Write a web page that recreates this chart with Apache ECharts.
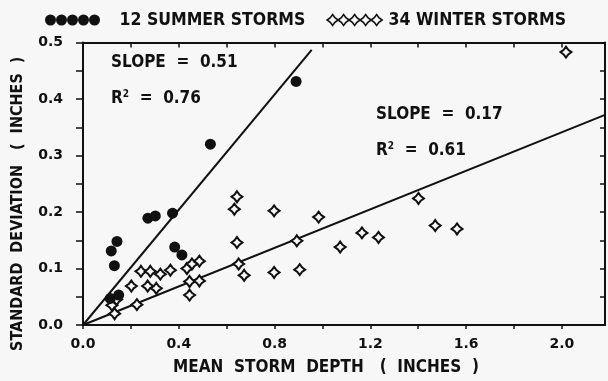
<!DOCTYPE html>
<html><head><meta charset="utf-8">
<script src="https://cdn.jsdelivr.net/npm/echarts@6/dist/echarts.min.js"></script>
<style>html,body{margin:0;padding:0;background:#f7f7f7}#c{width:608px;height:381px}</style>
</head><body><div id="c"></div>
<script>
// ---- data ----
const summerX = [0.114, 0.149, 0.131, 0.118, 0.142, 0.271, 0.302, 0.374, 0.383, 0.413, 0.532, 0.890];
const summerY = [0.047, 0.053, 0.105, 0.131, 0.148, 0.189, 0.193, 0.198, 0.138, 0.124, 0.320, 0.431];

const winterX = [0.643, 0.632, 0.643, 0.650, 0.673, 0.798, 0.798, 0.486, 0.434, 0.445, 0.486, 0.445,
                 0.242, 0.281, 0.323, 0.365, 0.202, 0.270, 0.306, 0.225, 0.121, 0.132, 0.893, 0.905,
                 0.984, 1.074, 1.165, 1.234, 1.401, 1.471, 1.562, 2.017, 0.455, 0.140];
const winterY = [0.227, 0.205, 0.146, 0.108, 0.088, 0.202, 0.093, 0.113, 0.100, 0.077, 0.078, 0.053,
                 0.095, 0.095, 0.090, 0.097, 0.069, 0.069, 0.065, 0.036, 0.035, 0.020, 0.149, 0.098,
                 0.191, 0.138, 0.163, 0.155, 0.224, 0.176, 0.170, 0.483, 0.108, 0.045];

const summerLineX = [0, 0.955];
const summerLineY = [0, 0.487];
const winterLineX = [0, 2.18];
const winterLineY = [0, 0.372];

const xTickLabels = ['0.0', '0.4', '0.8', '1.2', '1.6', '2.0'];
const yTickLabels = ['0.0', '0.1', '0.2', '0.3', '0.4', '0.5'];

const seriesNames = ['12 SUMMER STORMS', '34 WINTER STORMS'];
const annotations = [
  {text: 'SLOPE  =  0.51', left: 111, top: 54},
  {text: 'R{s|2}  =  0.76', left: 111, top: 89},
  {text: 'SLOPE  =  0.17', left: 376, top: 106},
  {text: 'R{s|2}  =  0.61', left: 376, top: 141}
];
// --------------------------------------

const zip = (xs, ys) => xs.map((x, i) => [x, ys[i]]);
const FONT = '"DejaVu Sans Condensed", "DejaVu Sans", sans-serif';
const INK = '#111';
const BG = '#f7f7f7';
const starPath = 'path://M5,0 L7.1,2.9 L10,5 L7.1,7.1 L5,10 L2.9,7.1 L0,5 L2.9,2.9 Z';

function chainCircles(n) {
  let d = '';
  for (let i = 0; i < n; i++) {
    const cx = 5 + i * 10;
    d += `M${cx - 5},5 a5,5 0 1,0 10,0 a5,5 0 1,0 -10,0 Z `;
  }
  return 'path://' + d;
}
function chainStars(n) {
  let d = '';
  for (let i = 0; i < n; i++) {
    const o = i * 10;
    d += `M${o + 5},0 L${o + 7.1},2.9 L${o + 10},5 L${o + 7.1},7.1 L${o + 5},10 L${o + 2.9},7.1 L${o},5 L${o + 2.9},2.9 Z `;
  }
  return 'path://' + d;
}

const fmtX = v => { const s = v.toFixed(1); return xTickLabels.includes(s) && Math.round(v * 10) % 4 === 0 ? s : ''; };
const fmtY = v => { const s = v.toFixed(1); return (Math.round(v * 100) % 10 === 0 && yTickLabels.includes(s)) ? s : ''; };

const chart = echarts.init(document.getElementById('c'), null, {renderer: 'canvas'});
chart.setOption({
  backgroundColor: BG,
  animation: false,
  textStyle: {fontFamily: FONT},
  grid: {left: 83, right: 3, top: 42.5, bottom: 54, containLabel: false},
  legend: {
    left: 40, top: 6,
    itemWidth: 56, itemHeight: 11, itemGap: 21,
    textStyle: {fontFamily: FONT, fontWeight: 'bold', fontSize: 17.5, color: INK},
    data: [
      {name: seriesNames[0], icon: chainCircles(5), itemStyle: {color: INK, borderWidth: 0},
       textStyle: {padding: [0, 0, 0, 14]}},
      {name: seriesNames[1], icon: chainStars(5), itemStyle: {color: BG, borderColor: INK, borderWidth: 1.6},
       textStyle: {padding: [0, 0, 0, 1]}}
    ]
  },
  xAxis: [{
    type: 'value', min: 0, max: 2.18, interval: 0.2, position: 'bottom',
    name: 'MEAN  STORM  DEPTH   (  INCHES  )', nameLocation: 'middle', nameGap: 34,
    nameTextStyle: {fontFamily: FONT, fontWeight: 'bold', fontSize: 17, color: INK, padding: [0, 36, 0, 0]},
    axisLine: {onZero: false, lineStyle: {color: INK, width: 2}},
    axisTick: {show: true, inside: false, length: 4, lineStyle: {color: INK, width: 1.5}},
    axisLabel: {formatter: fmtX, showMaxLabel: false, margin: 12, color: INK,
      fontFamily: '"DejaVu Sans", sans-serif', fontWeight: 'bold', fontSize: 14},
    splitLine: {show: false}
  }, {
    type: 'value', min: 0, max: 2.18, interval: 0.2, position: 'top',
    axisLine: {onZero: false, lineStyle: {color: INK, width: 2}},
    axisTick: {show: true, inside: true, length: 5, lineStyle: {color: INK, width: 1.5}},
    axisLabel: {show: false}, splitLine: {show: false}
  }],
  yAxis: [{
    type: 'value', min: 0, max: 0.5, interval: 0.05, position: 'left',
    name: 'STANDARD  DEVIATION   (  INCHES  )', nameLocation: 'middle', nameGap: 57, nameRotate: 90,
    nameTextStyle: {fontFamily: FONT, fontWeight: 'bold', fontSize: 16, color: INK, padding: [0, 40, 0, 0]},
    axisLine: {onZero: false, lineStyle: {color: INK, width: 2}},
    axisTick: {show: true, inside: false, length: 7, lineStyle: {color: INK, width: 1.5}},
    axisLabel: {formatter: fmtY, margin: 20, color: INK,
      fontFamily: '"DejaVu Sans", sans-serif', fontWeight: 'bold', fontSize: 14},
    splitLine: {show: false}
  }, {
    type: 'value', min: 0, max: 0.5, interval: 0.05, position: 'right',
    axisLine: {onZero: false, lineStyle: {color: INK, width: 2}},
    axisTick: {show: true, inside: true, length: 5, lineStyle: {color: INK, width: 1.5}},
    axisLabel: {show: false}, splitLine: {show: false}
  }],
  series: [
    {name: 'summerFit', type: 'line', data: zip(summerLineX, summerLineY), symbol: 'none', silent: true,
     lineStyle: {color: INK, width: 2}, z: 1},
    {name: 'winterFit', type: 'line', data: zip(winterLineX, winterLineY), symbol: 'none', silent: true,
     lineStyle: {color: INK, width: 2}, z: 1},
    {name: seriesNames[0], type: 'scatter', data: zip(summerX, summerY), symbol: 'circle', symbolSize: 11,
     itemStyle: {color: INK, opacity: 1}, z: 3},
    {name: seriesNames[1], type: 'scatter', data: zip(winterX, winterY), symbol: starPath, symbolSize: 11,
     itemStyle: {color: BG, borderColor: INK, borderWidth: 2, opacity: 1}, z: 2}
  ],
  graphic: annotations.map(a => ({
    type: 'text', left: a.left, top: a.top, z: 10,
    style: {text: a.text, fill: INK, font: `bold 17px ${FONT}`,
      rich: {s: {fontSize: 10, fontWeight: 'bold', fontFamily: FONT, fill: INK, verticalAlign: 'top', padding: [0, 0, 9, 0]}}}
  }))
});
</script></body></html>
